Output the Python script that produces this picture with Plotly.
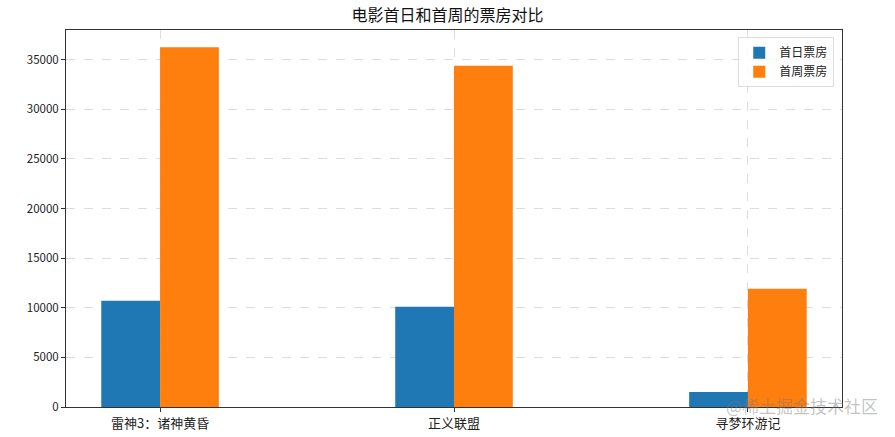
import plotly.graph_objects as go

movies = ["雷神3：诸神黄昏", "正义联盟", "寻梦环游记"]
first_day = [10700, 10100, 1500]
first_week = [36250, 34400, 11930]

fig = go.Figure()
fig.add_bar(x=movies, y=first_day, name="首日票房", marker=dict(color="#1f77b4", line=dict(width=0)))
fig.add_bar(x=movies, y=first_week, name="首周票房", marker=dict(color="#ff7f0e", line=dict(width=0)))

fig.update_layout(
    width=895, height=437,
    barmode="group", bargap=0.6, bargroupgap=0,
    margin=dict(l=66, r=53, t=30, b=30, autoexpand=False),
    paper_bgcolor="white", plot_bgcolor="white",
    font=dict(family="Noto Sans CJK SC", size=12, color="#222"),
    title=dict(text="电影首日和首周的票房对比", x=0.5, xanchor="center", y=0.9645, yanchor="middle",
               font=dict(size=16, color="#111")),
    legend=dict(x=0.99, xanchor="right", y=0.981, yanchor="top",
                bgcolor="rgba(255,255,255,0.8)", bordercolor="#ddd", borderwidth=1,
                font=dict(size=12), tracegroupgap=0),
    showlegend=True,
)
fig.update_xaxes(range=[-0.32, 2.32], showline=True, linecolor="#333", linewidth=1, mirror=True,
                 showgrid=True, gridcolor="#ddd", griddash="dash", gridwidth=1, automargin=False,
                 ticks="outside", ticklen=4, tickcolor="#333", tickfont=dict(size=13))
fig.update_yaxes(range=[0, 38000], dtick=5000, tickformat="d", showline=True, linecolor="#333",
                 linewidth=1, mirror=True, automargin=False,
                 showgrid=True, gridcolor="#ddd", griddash="dash", gridwidth=1, zeroline=False,
                 ticks="outside", ticklen=4, tickcolor="#333", tickfont=dict(size=11.5))

# watermark seen on the source image
fig.add_annotation(text="@稀土掘金技术社区", xref="paper", yref="paper", x=1.049, y=0.005,
                   xanchor="right", yanchor="middle", showarrow=False,
                   font=dict(size=17, color="rgba(120,120,120,0.45)"))

# drop the page's default body margin so the figure fills the window
fig.write_html("out.html", config={"displayModeBar": False},
               post_script="document.body.style.margin='0';")
